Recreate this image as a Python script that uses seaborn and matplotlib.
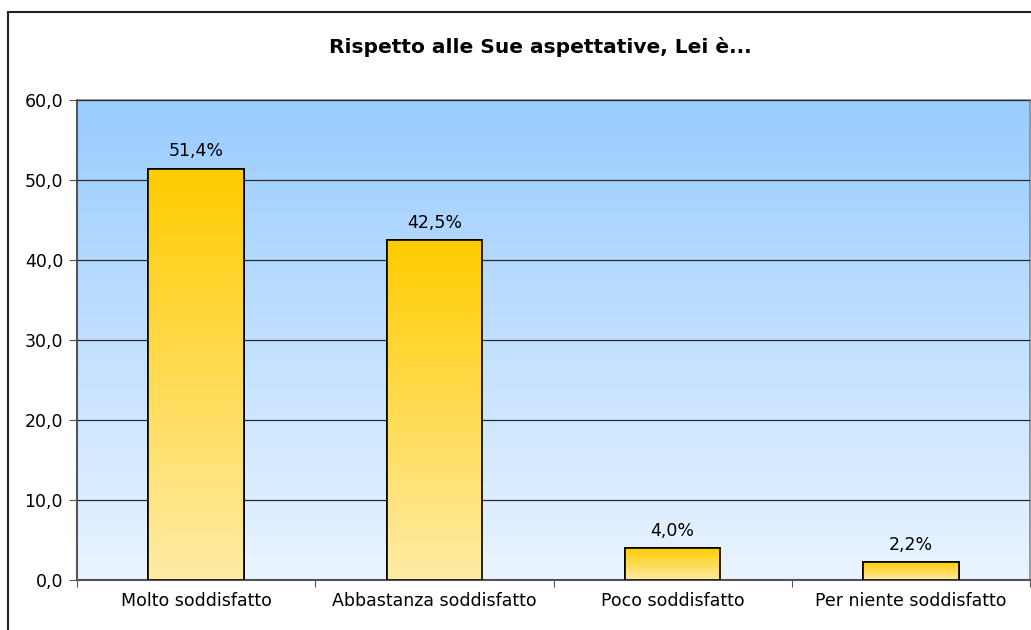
import numpy as np
import pandas as pd
import seaborn as sns
import matplotlib.pyplot as plt
from matplotlib.patches import Rectangle
from matplotlib.colors import LinearSegmentedColormap

categories = ["Molto soddisfatto", "Abbastanza soddisfatto",
              "Poco soddisfatto", "Per niente soddisfatto"]
values = [51.4, 42.5, 4.0, 2.2]
title = "Rispetto alle Sue aspettative, Lei è..."

df = pd.DataFrame({"cat": categories, "val": values})

sns.set_style("white")
plt.rcParams["font.family"] = ["DejaVu Sans"]
plt.rcParams["text.color"] = "black"
plt.rcParams["xtick.labelcolor"] = "black"
plt.rcParams["ytick.labelcolor"] = "black"

fig = plt.figure(figsize=(10.31, 6.30), dpi=100)
ax = fig.add_axes([77 / 1031, 1 - 580 / 630, 953 / 1031, 480 / 630])

sns.barplot(data=df, x="cat", y="val", ax=ax, width=0.4,
            color="#FFCC00", edgecolor="black", linewidth=1.2, zorder=3)

# background gradient (light at bottom, blue at top)
bg = LinearSegmentedColormap.from_list("bg", ["#EAF4FF", "#99CCFF"])
ax.imshow(np.linspace(0, 1, 256).reshape(-1, 1), cmap=bg, origin="lower",
          aspect="auto", extent=[0, 1, 0, 1], transform=ax.transAxes, zorder=0)

# gradient fill inside each bar
barg = LinearSegmentedColormap.from_list("barg", ["#FFEBA6", "#FFCC00"])
for p in ax.patches:
    x0, w, h = p.get_x(), p.get_width(), p.get_height()
    im = ax.imshow(np.linspace(0, 1, 256).reshape(-1, 1), cmap=barg,
                   origin="lower", aspect="auto",
                   extent=[x0, x0 + w, 0, h], zorder=3.5)
    im.set_clip_path(p)
    edge = Rectangle((x0, 0), w, h, fill=False, edgecolor="black",
                     linewidth=1.2, zorder=4)
    ax.add_patch(edge)

labels = [f"{v:.1f}%".replace(".", ",") for v in values]
ax.bar_label(ax.containers[0], labels=labels, padding=6, fontsize=12.5,
             color="black", zorder=5)

ax.set_xlim(-0.5, 3.5)
ax.set_ylim(0, 60)
ax.set_yticks(range(0, 61, 10))
ax.set_yticklabels([f"{t:.1f}".replace(".", ",") for t in range(0, 61, 10)],
                   fontsize=12.5)
ax.yaxis.grid(True, color="#2a2a2a", linewidth=0.9, zorder=1)
ax.set_axisbelow(False)
for gl in ax.get_ygridlines():
    gl.set_zorder(1)

ax.set_xticks(np.arange(-0.5, 4, 1.0))
ax.set_xticklabels([])
ax.set_xticks(range(4), labels=categories, minor=True, fontsize=12.5)
ax.tick_params(axis="x", which="minor", length=0, pad=9)
ax.tick_params(axis="x", which="major", length=5, color="#555555",
               direction="out", bottom=True)
ax.tick_params(axis="y", length=6, color="#555555", direction="out",
               left=True, pad=4)
ax.set_xlabel("")
ax.set_ylabel("")

for s in ["top", "right"]:
    ax.spines[s].set_color("#888888")
    ax.spines[s].set_linewidth(1.2)
for s in ["left", "bottom"]:
    ax.spines[s].set_color("#555555")
    ax.spines[s].set_linewidth(1.5)

fig.text(540 / 1031, 1 - 47 / 630, title, ha="center", va="center",
         fontsize=14.5, fontweight="bold", color="black")

# outer chart frame (partly cropped at the right and bottom)
frame = Rectangle((8 / 1031, -0.2), 1.2, 1.2 + (1 - 12 / 630) - 1,
                  transform=fig.transFigure, fill=False,
                  edgecolor="#222222", linewidth=1.5)
fig.patches.append(frame)

fig.savefig("out.png", dpi=100)
